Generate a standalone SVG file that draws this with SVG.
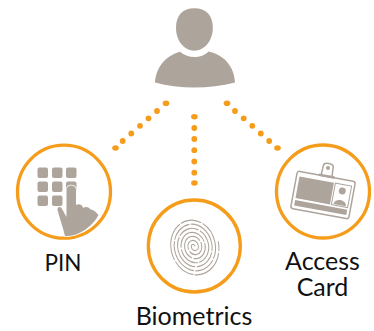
<svg xmlns="http://www.w3.org/2000/svg" width="374" height="331" viewBox="0 0 374 331">
<style>
.ring{fill:#fff;stroke:#f59c1a;stroke-width:3.300}
.g{fill:#ada49b}
.dot{fill:#f59c1a}
.lbl{font-family:"Lato","Noto Sans",sans-serif;font-size:25px;fill:#111;text-anchor:middle}
.fp{fill:none;stroke:#ada49b;stroke-width:1;stroke-dasharray:34 1.500 21 1.200}
</style>
<rect width="374" height="331" fill="#fff"/>
<g id="connectors">
<g class="dot">
<ellipse cx="166" cy="103.300" rx="3.300" ry="2.800"/><circle cx="157" cy="111" r="2.900"/><circle cx="148.500" cy="118.300" r="2.900"/><circle cx="140" cy="125.800" r="2.900"/><circle cx="131.300" cy="133.500" r="2.900"/><circle cx="122.700" cy="141" r="2.900"/><ellipse cx="115.500" cy="148" rx="3.300" ry="2.800"/>
<ellipse cx="194.400" cy="116.700" rx="3.300" ry="2.800"/><circle cx="194.300" cy="128" r="2.900"/><circle cx="194.300" cy="139" r="2.900"/><circle cx="194.300" cy="150.200" r="2.900"/><circle cx="194.300" cy="161.500" r="2.900"/><circle cx="194.300" cy="172.700" r="2.900"/><ellipse cx="194.400" cy="183" rx="3.300" ry="2.800"/>
<ellipse cx="227" cy="103.300" rx="3.300" ry="2.800"/><circle cx="235" cy="111" r="2.900"/><circle cx="243.700" cy="118.300" r="2.900"/><circle cx="252.300" cy="125.800" r="2.900"/><circle cx="260.800" cy="133.500" r="2.900"/><circle cx="269.200" cy="141" r="2.900"/><ellipse cx="277.500" cy="148" rx="3.300" ry="2.800"/>
</g>
</g>
<g id="user">
<path class="g" d="M194.300 8.300C206 8.300 212.800 15 212.800 28C212.800 41 204 50.700 194.300 50.700C184.500 50.700 176 41 176 28C176 15 183 8.300 194.300 8.300Z"/>
<path class="g" d="M180 51.700C185 55.500 189 57 194.300 57C200 57 204.500 55.500 208.500 51.500C224 54.500 234.500 67 235 82.500C222 85.800 208 87.500 194.300 87.500C181 87.500 167 85.800 155 82.500C156 67 166 55.500 180 51.700Z"/>
</g>
<g id="pin">
<circle class="ring" cx="64" cy="191.700" r="46.500"/>
<g class="g">
<rect x="37.500" y="167.500" width="10.500" height="10.500" rx="2"/><rect x="52" y="167.500" width="10.500" height="10.500" rx="2"/><rect x="66" y="167.500" width="10.500" height="10.500" rx="2"/>
<rect x="37.500" y="181.500" width="10.500" height="10.500" rx="2"/><rect x="52" y="181.500" width="10.500" height="10.500" rx="2"/><rect x="66" y="181.500" width="10.500" height="10.500" rx="2"/>
<rect x="37.500" y="195.500" width="10.500" height="10.500" rx="2"/><rect x="52" y="195.500" width="10.500" height="10.500" rx="2"/>
</g>
<path class="g" stroke="#fff" stroke-width="1.500" paint-order="stroke" d="M66.500 190C66.500 184 76 184 76 190L76 205C79 203.500 82.500 204.500 83 208C85.500 206 89.500 207 90.500 209.500C93 209 96 212 98.500 215C94 224 85 231 76 234.500C72 235.800 68 236 65 236C62.500 226 60 219 57.500 210C57 207 60 206 61.500 208L66.500 217Z"/>
<text class="lbl" style="font-size:22.500px" x="63" y="271">PIN</text>
</g>
<g id="biometrics">
<circle class="ring" cx="194.300" cy="246" r="46"/>
<path class="fp" transform="translate(194 246.500) rotate(-12) scale(1 1.200)" d="M1 0A1.850 1.850 0 0 0-2.700 0A3.550 3.550 0 0 0 4.400 0A5.250 5.250 0 0 0-6.100 0A6.950 6.950 0 0 0 7.800 0A8.650 8.650 0 0 0-9.500 0A10.350 10.350 0 0 0 11.200 0A12.050 12.050 0 0 0-12.900 0A13.750 13.750 0 0 0 14.600 0A15.450 15.450 0 0 0-16.300 0A17.150 17.150 0 0 0 18 0A18.850 18.850 0 0 0-19.700 0A20.550 20.550 0 0 0 21.400 0A22.250 22.250 0 0 0-23.100 0A23.950 23.950 0 0 0 24.800 0"/>
<text class="lbl" x="194" y="325">Biometrics</text>
</g>
<g id="access-card">
<circle class="ring" cx="323" cy="191.500" r="46.500"/>
<g transform="translate(323 195) rotate(10.500)">
<rect x="-29.500" y="-19" width="59" height="38" rx="2.500" fill="#fff" stroke="#ada49b" stroke-width="1.500"/>
<rect x="-26.500" y="-14" width="35" height="22" fill="#ada49b"/>
<rect x="10" y="-14" width="16.500" height="22" fill="#fff" stroke="#ada49b" stroke-width="1"/>
<circle cx="18.200" cy="-7.500" r="3.500" fill="#ada49b"/>
<path d="M12 7C12 0 24.500 0 24.500 7Z" fill="#ada49b"/>
<rect x="-26.500" y="10" width="53" height="5.500" fill="#ada49b"/>
<path d="M-5.500 -19L-5 -29C-5 -33 5 -33 5 -29L5.500 -19Z" fill="#fff" stroke="#ada49b" stroke-width="1.500"/>
<circle cx="0" cy="-27.500" r="2" fill="#ada49b"/>
<rect x="-8" y="-20.500" width="16" height="2.500" fill="#ada49b"/>
</g>
<text class="lbl" x="322.500" y="270">Access</text>
<text class="lbl" x="322.500" y="296">Card</text>
</g>
</svg>
